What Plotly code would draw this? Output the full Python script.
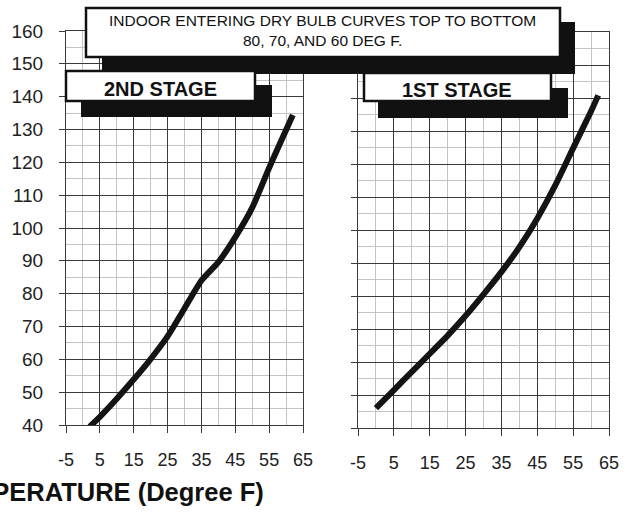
import plotly.graph_objects as go

W, H = 628, 512

# Data (outdoor temperature F vs pressure/value)
stage2_x = [2, 5, 10, 14, 19, 25, 30, 35, 40, 45, 50, 55, 58, 62]
stage2_y = [39.5, 42.5, 48, 52.7, 58.8, 67, 75.5, 84, 89.6, 97.2, 106.2, 118.3, 125.3, 134.4]
stage1_x = [0, 5, 10, 15, 20, 25, 30, 35, 40, 45, 50, 55, 60, 62]
stage1_y = [46, 51.5, 57, 62.5, 68, 74, 80.5, 87.3, 94.8, 103.5, 113.5, 124.8, 136, 140.8]

x_ticks = [-5, 5, 15, 25, 35, 45, 55, 65]
y_ticks = [40, 50, 60, 70, 80, 90, 100, 110, 120, 130, 140, 150, 160]

title_text = "INDOOR ENTERING DRY BULB CURVES TOP TO BOTTOM<br>80, 70, AND 60 DEG F."
left_label = "2ND STAGE"
right_label = "1ST STAGE"
axis_title = "OUTDOOR TEMPERATURE (Degree F)"

FONT = "Liberation Sans, Arial, Helvetica, sans-serif"
DARK = "#3a3a3a"
LIGHT = "#c4c4c4"


def px(x):
    return x / W


def py(y):
    return 1 - y / H


fig = go.Figure()
fig.add_trace(go.Scatter(x=stage2_x, y=stage2_y, mode="lines", xaxis="x", yaxis="y",
                         line=dict(color="#141414", width=6, shape="spline", smoothing=0.6),
                         showlegend=False, hoverinfo="skip"))
fig.add_trace(go.Scatter(x=stage1_x, y=stage1_y, mode="lines", xaxis="x2", yaxis="y2",
                         line=dict(color="#141414", width=6, shape="spline", smoothing=0.6),
                         showlegend=False, hoverinfo="skip"))


def xaxis(domain, anchor):
    return dict(domain=domain, anchor=anchor, range=[-5, 65], tickmode="array",
                tickvals=x_ticks, ticktext=[str(v) for v in x_ticks],
                showgrid=True, gridcolor=DARK, gridwidth=1,
                minor=dict(tickmode="array", tickvals=[0, 10, 20, 30, 40, 50, 60],
                           showgrid=True, gridcolor=LIGHT, gridwidth=1, ticks=""),
                showline=True, linecolor=DARK, linewidth=1, mirror=True,
                ticks="outside", ticklen=7, tickcolor=DARK, tickwidth=1,
                tickfont=dict(family=FONT, size=18, color="#222"),
                ticklabelstandoff=11, zeroline=False, automargin=False, fixedrange=True)


def yaxis(domain, anchor, labels):
    return dict(domain=domain, anchor=anchor, range=[40, 160], tickmode="array",
                tickvals=y_ticks, ticktext=[str(v) for v in y_ticks],
                showticklabels=labels,
                showgrid=True, gridcolor=DARK, gridwidth=1,
                minor=dict(tickmode="array", tickvals=[45 + 10 * i for i in range(12)],
                           showgrid=True, gridcolor=LIGHT, gridwidth=1, ticks=""),
                showline=True, linecolor=DARK, linewidth=1, mirror=True,
                ticks="outside", ticklen=6, tickcolor=DARK, tickwidth=1,
                tickfont=dict(family=FONT, size=19, color="#222"),
                ticklabelstandoff=12, zeroline=False, automargin=False, fixedrange=True)


shapes = []


def rect(x0, y0, x1, y1, fill, line_w=0):
    shapes.append(dict(type="rect", xref="paper", yref="paper",
                       x0=px(x0), x1=px(x1), y0=py(y1), y1=py(y0),
                       fillcolor=fill, line=dict(color="#111", width=line_w),
                       layer="above"))


# title box
rect(102, 22, 575, 74, "#111")
rect(86, 8, 560, 57, "white", 2.5)
# 2nd stage box
rect(81, 85, 272, 117, "#111")
rect(66, 71, 255, 101, "white", 2.5)
# 1st stage box
rect(378, 88, 568, 118, "#111")
rect(364, 73, 551, 101, "white", 2.5)

annotations = [
    dict(text=title_text, x=px(322), y=py(30), xref="paper", yref="paper",
         showarrow=False, xanchor="center", yanchor="middle", align="center",
         font=dict(family=FONT, size=15.5, color="#111")),
    dict(text=left_label, x=px(160), y=py(89), xref="paper", yref="paper",
         showarrow=False, xanchor="center", yanchor="middle",
         font=dict(family=FONT, size=20, color="#111", weight="bold")),
    dict(text=right_label, x=px(457), y=py(90), xref="paper", yref="paper",
         showarrow=False, xanchor="center", yanchor="middle",
         font=dict(family=FONT, size=20, color="#111", weight="bold")),
    dict(text=axis_title, x=px(266), y=py(492), xref="paper", yref="paper",
         showarrow=False, xanchor="right", yanchor="middle",
         font=dict(family=FONT, size=25.5, color="#111", weight="bold")),
]

fig.update_layout(
    width=W, height=H,
    margin=dict(l=0, r=0, t=0, b=0),
    paper_bgcolor="white", plot_bgcolor="white",
    xaxis=xaxis([px(66), px(303)], "y"),
    yaxis=yaxis([py(425), py(31)], "x", True),
    xaxis2=xaxis([px(358), px(609)], "y2"),
    yaxis2=yaxis([py(428), py(32)], "x2", False),
    shapes=shapes,
    annotations=annotations,
    showlegend=False,
)

fig.write_html("out.html", config={"displayModeBar": False},
               post_script="document.body.style.margin='0';document.body.style.overflow='hidden';")
